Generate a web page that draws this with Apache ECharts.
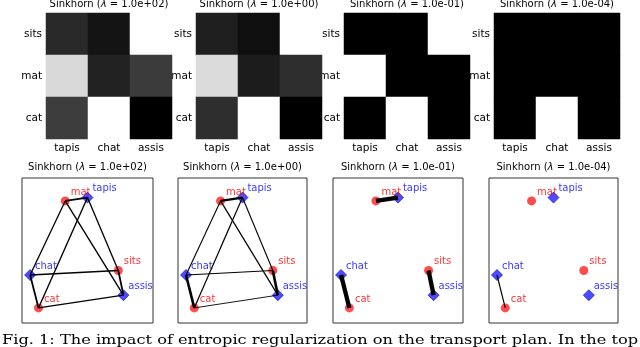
<!DOCTYPE html>
<html><head><meta charset="utf-8">
<script src="https://cdn.jsdelivr.net/npm/echarts@6/dist/echarts.min.js"></script>
<style>html,body{margin:0;padding:0;background:#fff}#c{width:640px;height:347px}</style>
</head><body><div id="c"></div>
<script>
// ---- data ----
const targetWords = ['tapis', 'chat', 'assis'];
const sourceWords = ['sits', 'mat', 'cat'];          // heatmap rows, top to bottom
const lambdaLabels = ['1.0e+02', '1.0e+00', '1.0e-01', '1.0e-04'];
// 2-D word positions (normalised to the panel)
const sourceX = [0.735, 0.330, 0.126];
const sourceY = [0.362, 0.842, 0.104];
const targetX = [0.500, 0.062, 0.774];
const targetY = [0.865, 0.331, 0.192];
// transport plans, rows = sourceWords, cols = targetWords
const plan1 = [[0.1014, 0.0982, 0.1350], [0.1290, 0.1002, 0.1042], [0.1046, 0.1350, 0.0950]];
const plan2 = [[0.0856, 0.0778, 0.2000], [0.1818, 0.0843, 0.0934], [0.0934, 0.2000, 0.0700]];
const plan3 = [[0.0001, 0.0001, 0.3331], [0.3331, 0.0001, 0.0001], [0.0001, 0.3331, 0.0001]];
const plan4 = [[0, 0, 0], [0, 0, 0], [0, 0.09, 0]];
const plans = [plan1, plan2, plan3, plan4];
const captionText = 'Fig. 1: The impact of entropic regularization on the transport plan. In the top';

// ---- layout / style ----
const heatLeft = [46, 196, 344, 494];
const heatSize = 126;
const scatLeft = [22, 178, 333, 489];
const scatWidth = [131, 129, 130, 129];
const FONT = 'DejaVu Sans';
const LINE_SCALE = 13;

const grids = [], xAxes = [], yAxes = [], series = [], visualMaps = [], titles = [];

function titleText(l) { return 'Sinkhorn ({i|λ} = ' + l + ')'; }
const titleStyle = { fontSize: 10, fontWeight: 'normal', color: '#000', fontFamily: FONT,
  rich: { i: { fontSize: 10, fontStyle: 'italic', fontFamily: FONT, color: '#000' } } };

plans.forEach((P, i) => {
  // heatmap grid
  grids.push({ left: heatLeft[i], top: 13, width: heatSize, height: heatSize });
  xAxes.push({ type: 'category', gridIndex: i, data: targetWords,
    axisLine: { show: false }, axisTick: { show: false },
    axisLabel: { fontSize: 10.5, color: '#000', margin: 4, fontFamily: FONT } });
  yAxes.push({ type: 'category', gridIndex: i, data: sourceWords, inverse: true,
    axisLine: { show: false }, axisTick: { show: false },
    axisLabel: { fontSize: 10.5, color: '#000', margin: 4, fontFamily: FONT } });
  const hd = [];
  let mn = Infinity, mx = -Infinity;
  P.forEach((row, r) => row.forEach((v, c) => { hd.push([c, r, v]); mn = Math.min(mn, v); mx = Math.max(mx, v); }));
  series.push({ type: 'heatmap', xAxisIndex: i, yAxisIndex: i, data: hd,
    itemStyle: { borderWidth: 0 }, emphasis: { disabled: true } });
  visualMaps.push({ type: 'continuous', show: false, seriesIndex: series.length - 1,
    min: mn, max: mx, inRange: { color: ['#000000', '#ffffff'] } });
  titles.push({ text: titleText(lambdaLabels[i]), left: heatLeft[i] + heatSize / 2, top: -1,
    textAlign: 'center', padding: 0, textStyle: titleStyle });
});

plans.forEach((P, i) => {
  const g = 4 + i;
  grids.push({ left: scatLeft[i], top: 178, width: scatWidth[i], height: 145,
    show: true, borderColor: '#333', borderWidth: 1 });
  xAxes.push({ type: 'value', gridIndex: g, min: 0, max: 1, show: false });
  yAxes.push({ type: 'value', gridIndex: g, min: 0, max: 1, show: false });
  const edges = [];
  P.forEach((row, r) => row.forEach((v, c) => {
    const w = v * LINE_SCALE;
    if (w > 0.05) edges.push({ coords: [[sourceX[r], sourceY[r]], [targetX[c], targetY[c]]],
      lineStyle: { width: w } });
  }));
  series.push({ type: 'scatter', xAxisIndex: g, yAxisIndex: g, z: 2,
    symbol: 'circle', symbolSize: 9,
    itemStyle: { color: 'rgba(255,0,0,0.88)' },
    label: { show: true, position: 'right', distance: 0, offset: [1, -9], formatter: '{b}',
      color: '#ff0000', fontSize: 10, fontFamily: FONT },
    data: sourceWords.map((w, k) => ({ name: w, value: [sourceX[k], sourceY[k]] })) });
  series.push({ type: 'scatter', xAxisIndex: g, yAxisIndex: g, z: 2,
    symbol: 'diamond', symbolSize: 11,
    itemStyle: { color: '#2020ff', borderColor: '#0000bb', borderWidth: 0.8 },
    label: { show: true, position: 'right', distance: 0, offset: [-1, -9], formatter: '{b}',
      color: '#0000ff', fontSize: 10, fontFamily: FONT },
    data: targetWords.map((w, k) => ({ name: w, value: [targetX[k], targetY[k]] })) });
  series.push({ type: 'lines', coordinateSystem: 'cartesian2d', xAxisIndex: g, yAxisIndex: g, z: 3,
    lineStyle: { color: '#000', opacity: 1 }, data: edges, silent: true });
  titles.push({ text: titleText(lambdaLabels[i]), left: scatLeft[i] + scatWidth[i] / 2, top: 162,
    textAlign: 'center', padding: 0, textStyle: titleStyle });
});

// caption width fit
const capFont = '13.5px "DejaVu Serif"';
const cv = document.createElement('canvas').getContext('2d');
cv.font = capFont;
const capW = cv.measureText(captionText).width;
const capScale = 636 / capW;

const chart = echarts.init(document.getElementById('c'), null, { renderer: 'canvas' });
chart.setOption({
  animation: false,
  backgroundColor: '#fff',
  title: titles,
  grid: grids, xAxis: xAxes, yAxis: yAxes,
  visualMap: visualMaps,
  series: series,
  graphic: [{ type: 'text', x: 2, y: 340, scaleX: capScale, originX: 0,
    style: { text: captionText, font: capFont, fill: '#000', verticalAlign: 'middle' } }]
});
</script></body></html>
